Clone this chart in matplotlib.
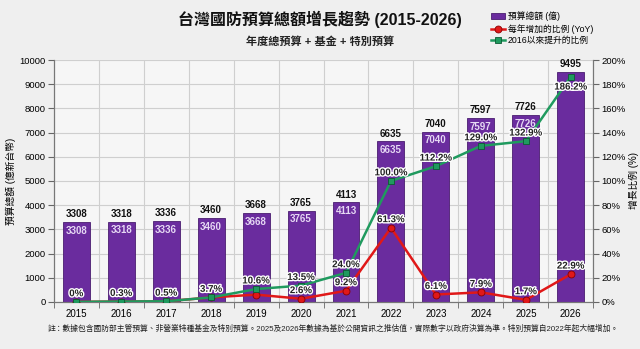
import numpy as np
import matplotlib.pyplot as plt
import matplotlib.patheffects as pe

plt.rcParams['font.family'] = ['Liberation Sans', 'Noto Sans CJK TC', 'DejaVu Sans']

# data
years = ["2015", "2016", "2017", "2018", "2019", "2020",
         "2021", "2022", "2023", "2024", "2025", "2026"]
budget = [3308, 3318, 3336, 3460, 3668, 3765, 4113, 6635, 7040, 7597, 7726, 9495]
yoy = [0, 0.3, 0.5, 3.7, 6.0, 2.6, 9.2, 61.3, 6.1, 7.9, 1.7, 22.9]
since_2016 = [0, 0.3, 0.5, 3.7, 10.6, 13.5, 24.0, 100.0, 112.2, 129.0, 132.9, 186.2]
yoy_labels = ["", "", "", "", "", "2.6%", "9.2%", "61.3%", "6.1%", "7.9%", "1.7%", "22.9%"]
cum_labels = ["0%", "0.3%", "0.5%", "3.7%", "10.6%", "13.5%", "24.0%",
              "100.0%", "112.2%", "129.0%", "132.9%", "186.2%"]
# the 2026 inner label is hidden under the green marker in the original
inner_labels = [str(v) for v in budget[:-1]] + [""]

bg = "#efefef"
purple = "#6a2c9e"
red = "#e01818"
green = "#1f9a5e"

fig = plt.figure(figsize=(6.4, 3.49), dpi=100, facecolor=bg)
ax = fig.add_axes([0.084, 0.135, 0.843, 0.693])
ax.set_facecolor("#f6f6f6")
x = np.arange(len(years))

bars = ax.bar(x, budget, width=0.6, color=purple, edgecolor="#4a1d70",
              linewidth=0.6, zorder=2, label="預算總額 (億)")
for xi, v, t in zip(x, budget, inner_labels):
    ax.text(xi, v + 120, str(v), ha="center", va="bottom", fontsize=7,
            fontweight="bold", color="#111111", zorder=5)
    if t:
        ax.text(xi, v - 150, t, ha="center", va="top", fontsize=7,
                fontweight="bold", color="#e6d8f4", zorder=5)

ax.set_xlim(-0.5, len(years) - 0.5)
ax.set_ylim(0, 10000)
ax.set_yticks(np.arange(0, 10001, 1000))
ax.set_xticks(x)
ax.set_xticklabels(years, fontsize=7)
ax.set_xticks(np.arange(-0.5, len(years), 1), minor=True)
ax.tick_params(axis="x", which="major", length=0, pad=5)
ax.tick_params(axis="x", which="minor", length=4, color="#666666")
ax.tick_params(axis="y", labelsize=6.8, length=4, pad=2, color="#666666")
ax.grid(True, axis="y", color="#cfcfcf", linewidth=0.8, zorder=0)
ax.grid(True, axis="x", which="minor", color="#cfcfcf", linewidth=0.8, zorder=0)
ax.set_axisbelow(True)
ax.set_ylabel("預算總額 (億新台幣)", fontsize=7, labelpad=2)
for s in ax.spines.values():
    s.set_color("#777777")
ax.spines["top"].set_visible(False)

ax2 = ax.twinx()
ax2.set_ylim(0, 200)
ax2.set_yticks(np.arange(0, 201, 20))
ax2.set_yticklabels([f"{v}%" for v in range(0, 201, 20)])
ax2.tick_params(axis="y", labelsize=6.8, length=4, pad=2, color="#666666")
ax2.set_ylabel("增長比例 (%)", fontsize=7, labelpad=2)
for s in ax2.spines.values():
    s.set_color("#777777")
ax2.spines["top"].set_visible(False)

l1, = ax2.plot(x, yoy, color=red, linewidth=1.8, marker="o", markersize=5,
               markerfacecolor=red, markeredgecolor="#8a0000",
               markeredgewidth=0.6, zorder=3, label="每年增加的比例 (YoY)")
l2, = ax2.plot(x, since_2016, color=green, linewidth=1.8, marker="s", markersize=5,
               markerfacecolor=green, markeredgecolor="#0b5a33",
               markeredgewidth=0.6, zorder=4, label="2016以來提升的比例")

halo = [pe.withStroke(linewidth=2, foreground="white")]
for xi, v, t in zip(x, yoy, yoy_labels):
    if t:
        ax2.text(xi, v + 3, t, ha="center", va="bottom", fontsize=7,
                 fontweight="bold", color="#222222", path_effects=halo, zorder=6)
for i, (xi, v, t) in enumerate(zip(x, since_2016, cum_labels)):
    if i == len(x) - 1:
        ax2.text(xi, v - 4, t, ha="center", va="top", fontsize=7,
                 fontweight="bold", color="#222222", path_effects=halo, zorder=6)
    else:
        ax2.text(xi, v + 3, t, ha="center", va="bottom", fontsize=7,
                 fontweight="bold", color="#222222", path_effects=halo, zorder=6)

fig.legend(handles=[bars, l1, l2], loc="upper left", bbox_to_anchor=(0.758, 0.985),
           fontsize=6.3, frameon=False, handlelength=1.6, handletextpad=0.3,
           labelspacing=0.3, borderpad=0.2)

fig.text(0.5, 0.945, "台灣國防預算總額增長趨勢 (2015-2026)", ha="center", va="center",
         fontsize=11.5, fontweight="bold", color="#111111")
fig.text(0.5, 0.882, "年度總預算 + 基金 + 特別預算", ha="center", va="center",
         fontsize=8, fontweight="bold", color="#222222")
fig.text(0.52, 0.058,
         "註：數據包含國防部主管預算、非營業特種基金及特別預算。2025及2026年數據為基於公開資訊之推估值，"
         "實際數字以政府決算為準。特別預算自2022年起大幅增加。",
         ha="center", va="center", fontsize=5.6, color="#222222")

fig.savefig("out.png", dpi=100, facecolor=bg)
